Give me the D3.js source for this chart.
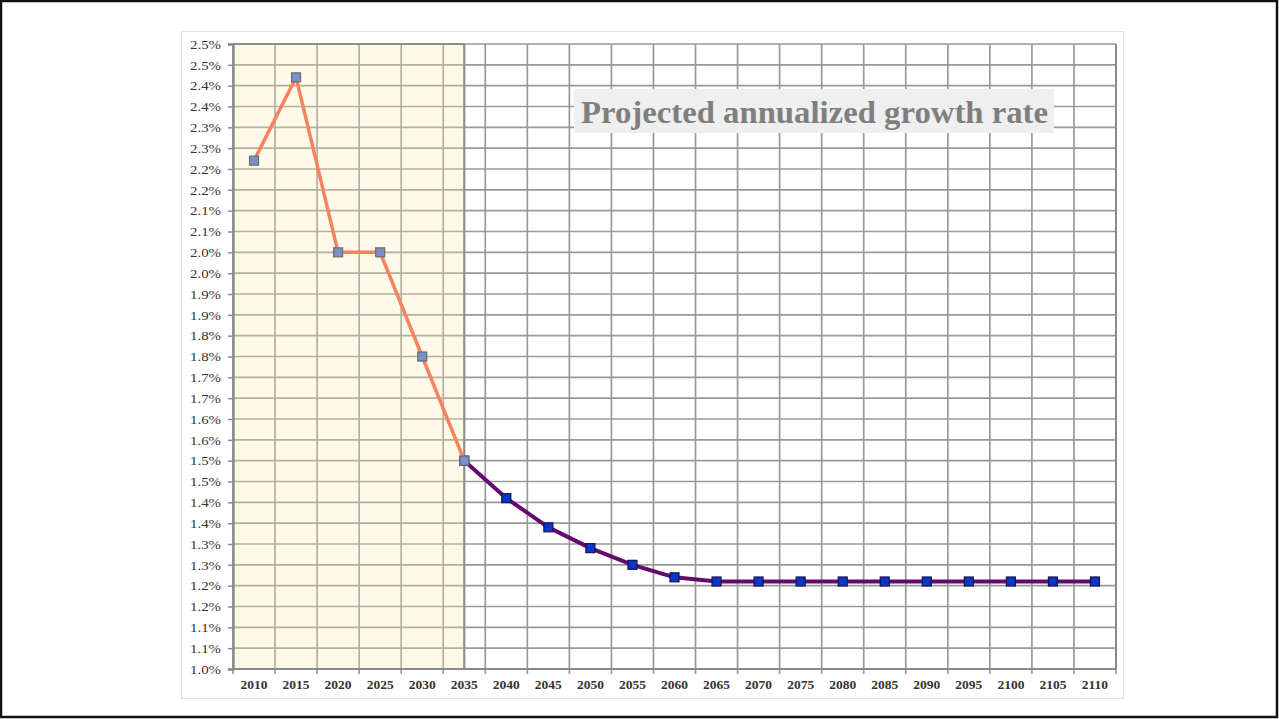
<!DOCTYPE html>
<html>
<head>
<meta charset="utf-8">
<script src="https://cdn.jsdelivr.net/npm/d3@7"></script>
<style>
  html, body { margin: 0; padding: 0; background: #fff; }
  svg { display: block; }
</style>
</head>
<body>
<div id="chart"></div>
<script>
// categories and series (growth rate, %)
const years = [2010, 2015, 2020, 2025, 2030, 2035, 2040, 2045, 2050, 2055, 2060,
  2065, 2070, 2075, 2080, 2085, 2090, 2095, 2100, 2105, 2110];
const histYears = [2010, 2015, 2020, 2025, 2030, 2035];
const histValues = [2.22, 2.42, 2.00, 2.00, 1.75, 1.50];
const projYears = [2035, 2040, 2045, 2050, 2055, 2060, 2065, 2070, 2075, 2080,
  2085, 2090, 2095, 2100, 2105, 2110];
const projValues = [1.50, 1.41, 1.34, 1.29, 1.25, 1.22, 1.21, 1.21, 1.21, 1.21,
  1.21, 1.21, 1.21, 1.21, 1.21, 1.21];
const yTicks = [1.00, 1.05, 1.10, 1.15, 1.20, 1.25, 1.30, 1.35, 1.40, 1.45, 1.50,
  1.55, 1.60, 1.65, 1.70, 1.75, 1.80, 1.85, 1.90, 1.95, 2.00, 2.05, 2.10, 2.15,
  2.20, 2.25, 2.30, 2.35, 2.40, 2.45, 2.50];
const yTickLabels = ["1.0%", "1.1%", "1.1%", "1.2%", "1.2%", "1.3%", "1.3%", "1.4%",
  "1.4%", "1.5%", "1.5%", "1.6%", "1.6%", "1.7%", "1.7%", "1.8%", "1.8%", "1.9%",
  "1.9%", "2.0%", "2.0%", "2.1%", "2.1%", "2.2%", "2.2%", "2.3%", "2.3%", "2.4%",
  "2.4%", "2.5%", "2.5%"];
const title = "Projected annualized growth rate";

const width = 1279, height = 719;
const plot = { left: 233, right: 1116, top: 44, bottom: 669 };

const svg = d3.select("#chart").append("svg")
  .attr("width", width)
  .attr("height", height);

// outer frame
svg.append("rect")
  .attr("x", 1).attr("y", 1).attr("width", width - 3).attr("height", height - 3)
  .attr("fill", "#fff").attr("stroke", "#111").attr("stroke-width", 2.5);

// chart area border
svg.append("rect")
  .attr("x", 181.5).attr("y", 31.5).attr("width", 942).attr("height", 667)
  .attr("fill", "#fff").attr("stroke", "#e2e2e2");

const x = d3.scaleBand().domain(years).range([plot.left, plot.right]);
const cx = d => x(d) + x.bandwidth() / 2;
const y = d3.scaleLinear().domain([1.0, 2.5]).range([plot.bottom, plot.top]);

// horizontal gridlines
svg.append("g").selectAll("line")
  .data(yTicks)
  .enter().append("line")
  .attr("x1", plot.left).attr("x2", plot.right)
  .attr("y1", d => y(d)).attr("y2", d => y(d))
  .attr("stroke", "#999").attr("stroke-width", 1.7);

// vertical gridlines at category boundaries
const bounds = years.map(d => x(d)).concat([plot.right]);
svg.append("g").selectAll("line")
  .data(bounds)
  .enter().append("line")
  .attr("x1", d => d).attr("x2", d => d)
  .attr("y1", plot.top).attr("y2", plot.bottom + 5)
  .attr("stroke", "#999").attr("stroke-width", 1.7);

// shaded historic region
const shadeRight = cx(2035);
svg.append("rect")
  .attr("x", plot.left).attr("y", plot.top)
  .attr("width", shadeRight - plot.left).attr("height", plot.bottom - plot.top)
  .attr("fill", "#f8f0a8").attr("fill-opacity", 0.28);
svg.append("path")
  .attr("d", `M${plot.left},${plot.top}H${shadeRight}V${plot.bottom}`)
  .attr("fill", "none").attr("stroke", "#8e8e8e").attr("stroke-width", 2.2);

// axes
const yAxis = svg.append("g")
  .attr("transform", `translate(${plot.left},0)`)
  .call(d3.axisLeft(y).tickValues(yTicks).tickSize(5).tickPadding(7)
    .tickFormat((d, i) => yTickLabels[i]));
yAxis.select(".domain").attr("stroke", "#8a8a8a").attr("stroke-width", 2.4);
yAxis.selectAll(".tick line").attr("stroke", "#8a8a8a").attr("stroke-width", 1.5);
yAxis.selectAll("text")
  .attr("font-family", "'Liberation Serif', 'Times New Roman', serif")
  .attr("font-size", 13.5).attr("fill", "#333")
  .attr("textLength", 31).attr("lengthAdjust", "spacingAndGlyphs");

svg.append("line")
  .attr("x1", plot.left).attr("x2", plot.right)
  .attr("y1", plot.bottom).attr("y2", plot.bottom)
  .attr("stroke", "#8a8a8a").attr("stroke-width", 2.2);
svg.append("line")
  .attr("x1", plot.right).attr("x2", plot.right)
  .attr("y1", plot.top).attr("y2", plot.bottom)
  .attr("stroke", "#8a8a8a").attr("stroke-width", 2);

svg.append("g").selectAll("text")
  .data(years)
  .enter().append("text")
  .attr("x", d => cx(d)).attr("y", 689)
  .attr("text-anchor", "middle")
  .attr("font-family", "'Liberation Serif', 'Times New Roman', serif")
  .attr("font-size", 13.5).attr("font-weight", "bold").attr("fill", "#333")
  .text(d => d);

// title
const titleG = svg.append("g");
titleG.append("rect")
  .attr("x", 574).attr("y", 89).attr("width", 480).attr("height", 44)
  .attr("fill", "#efefef");
titleG.append("text")
  .attr("x", 581).attr("y", 123)
  .attr("font-family", "'Liberation Serif', 'Times New Roman', serif")
  .attr("font-size", 32).attr("font-weight", "bold").attr("fill", "#7f7f7f")
  .attr("textLength", 467).attr("lengthAdjust", "spacingAndGlyphs")
  .text(title);

// series
const line = d3.line().x(d => cx(d[0])).y(d => y(d[1]));
const proj = projYears.map((d, i) => [d, projValues[i]]);
const hist = histYears.map((d, i) => [d, histValues[i]]);

svg.append("path")
  .datum(proj)
  .attr("d", line)
  .attr("fill", "none").attr("stroke", "#640a6e").attr("stroke-width", 4)
  .attr("stroke-linejoin", "round");
svg.append("g").selectAll("rect")
  .data(proj)
  .enter().append("rect")
  .attr("x", d => cx(d[0]) - 4.5).attr("y", d => y(d[1]) - 4.5)
  .attr("width", 9).attr("height", 9)
  .attr("fill", "#0a37c8").attr("stroke", "#15154a").attr("stroke-width", 1.2);

svg.append("path")
  .datum(hist)
  .attr("d", line)
  .attr("fill", "none").attr("stroke", "#f7825f").attr("stroke-width", 3.5)
  .attr("stroke-linejoin", "round");
svg.append("g").selectAll("rect")
  .data(hist)
  .enter().append("rect")
  .attr("x", d => cx(d[0]) - 4.5).attr("y", d => y(d[1]) - 4.5)
  .attr("width", 9).attr("height", 9)
  .attr("fill", "#7a8fc6").attr("stroke", "#6b6b78").attr("stroke-width", 1.2);
</script>
</body>
</html>
